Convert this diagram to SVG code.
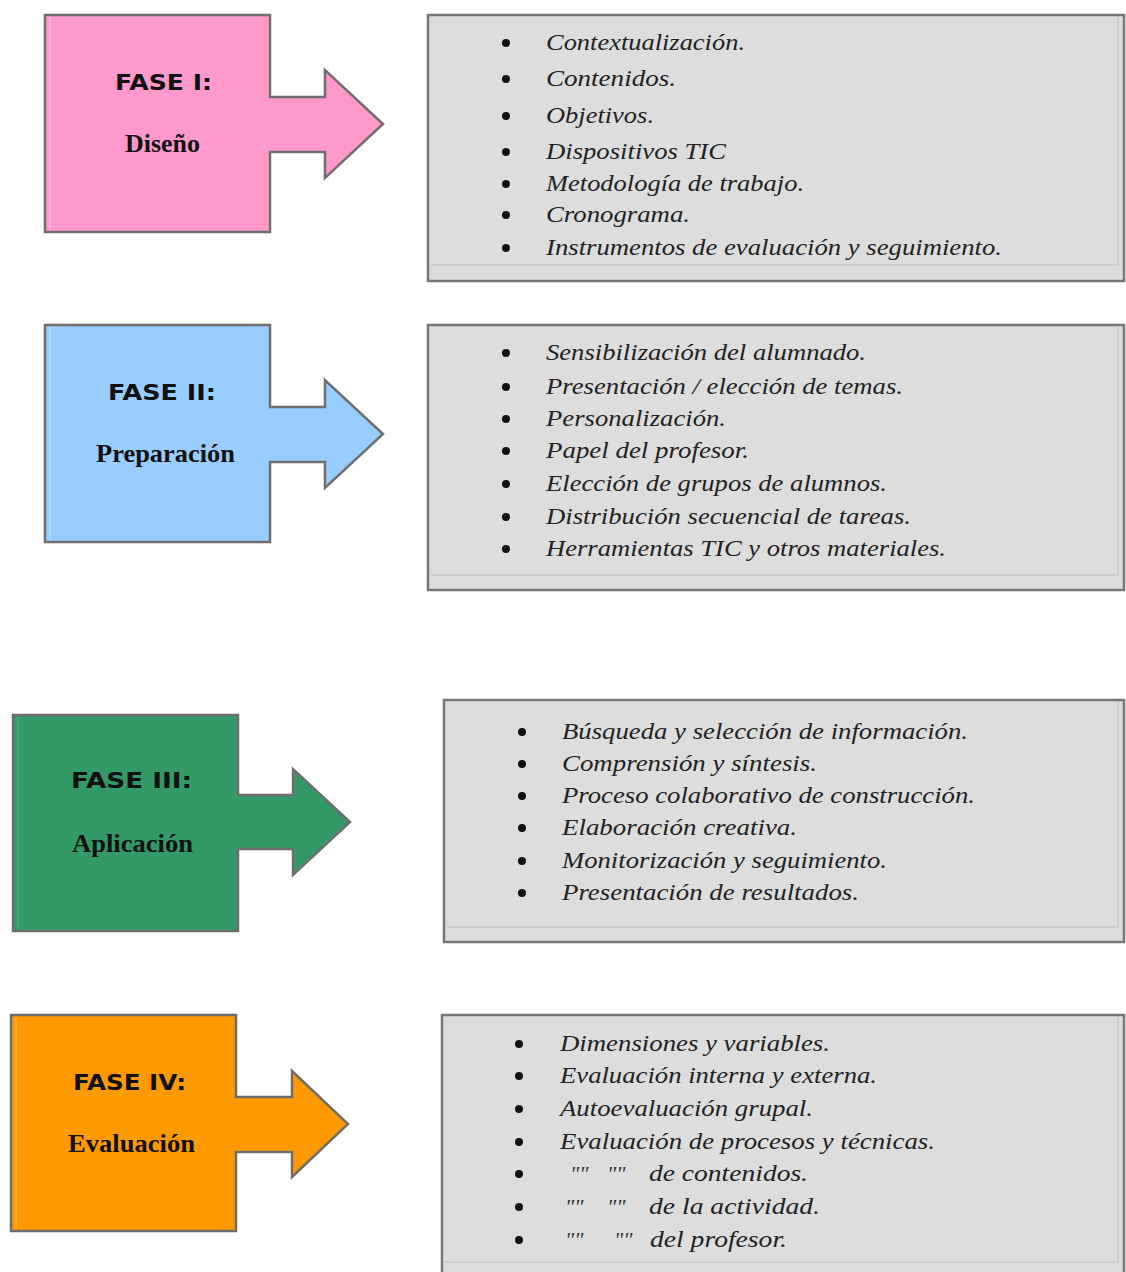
<svg xmlns="http://www.w3.org/2000/svg" width="1126" height="1272" viewBox="0 0 1126 1272">
<style>
.shape{stroke:#6e6e6e;stroke-width:2.5;stroke-linejoin:miter}
.list{fill:#dddddd;stroke:#777777;stroke-width:2.5}
.bevel{stroke:#c9c9c9;stroke-width:1.5;fill:none}
.hl{stroke-width:1.5;fill:none;opacity:0.6}
.fase{font-family:"DejaVu Sans","Liberation Sans",sans-serif;font-weight:bold;font-size:22px;fill:#111;text-anchor:start}
.name{font-family:"Liberation Serif","DejaVu Serif",serif;font-weight:bold;font-size:25px;fill:#111}
.item{font-family:"Liberation Serif","DejaVu Serif",serif;font-style:italic;font-size:23px;fill:#222}
.q{font-family:"Liberation Serif","DejaVu Serif",serif;font-style:italic;font-size:22px;fill:#333}
.bul{fill:#111}
</style>
<rect width="1126" height="1272" fill="#ffffff"/>

<g id="fase1">
<path class="shape" fill="#ff99cc" d="M45,15 H270 V97 H325 V70 L383,124 L325,178 V152 H270 V232 H45 Z"/>
<line class="hl" stroke="#ffc8e4" x1="50" y1="17" x2="50" y2="230"/>
<text class="fase" x="115" y="90" textLength="97" lengthAdjust="spacingAndGlyphs">FASE I:</text>
<text class="name" x="125" y="152" textLength="75" lengthAdjust="spacingAndGlyphs">Diseño</text>
</g>

<g id="lista1">
<rect class="list" x="428" y="15" width="696" height="266"/>
<path class="bevel" d="M431,265 H1118 V17"/>
<g class="bul"><circle cx="506" cy="43" r="4"/><circle cx="506" cy="79" r="4"/><circle cx="506" cy="116" r="4"/><circle cx="506" cy="152" r="4"/><circle cx="506" cy="184" r="4"/><circle cx="506" cy="215" r="4"/><circle cx="506" cy="248" r="4"/></g>
<text class="item" x="546" y="50" textLength="199" lengthAdjust="spacingAndGlyphs">Contextualización.</text>
<text class="item" x="546" y="86" textLength="130" lengthAdjust="spacingAndGlyphs">Contenidos.</text>
<text class="item" x="546" y="123" textLength="108" lengthAdjust="spacingAndGlyphs">Objetivos.</text>
<text class="item" x="546" y="159" textLength="180" lengthAdjust="spacingAndGlyphs">Dispositivos TIC</text>
<text class="item" x="546" y="191" textLength="258" lengthAdjust="spacingAndGlyphs">Metodología de trabajo.</text>
<text class="item" x="546" y="222" textLength="144" lengthAdjust="spacingAndGlyphs">Cronograma.</text>
<text class="item" x="546" y="255" textLength="456" lengthAdjust="spacingAndGlyphs">Instrumentos de evaluación y seguimiento.</text>
</g>

<g id="fase2">
<path class="shape" fill="#99ccff" d="M45,325 H270 V407 H325 V380 L383,434 L325,488 V462 H270 V542 H45 Z"/>
<line class="hl" stroke="#cfe6ff" x1="50" y1="327" x2="50" y2="540"/>
<text class="fase" x="108" y="400" textLength="108" lengthAdjust="spacingAndGlyphs">FASE II:</text>
<text class="name" x="96" y="462" textLength="139" lengthAdjust="spacingAndGlyphs">Preparación</text>
</g>

<g id="lista2">
<rect class="list" x="428" y="325" width="696" height="265"/>
<path class="bevel" d="M431,575 H1118 V327"/>
<g class="bul"><circle cx="506" cy="353" r="4"/><circle cx="506" cy="387" r="4"/><circle cx="506" cy="419" r="4"/><circle cx="506" cy="451" r="4"/><circle cx="506" cy="484" r="4"/><circle cx="506" cy="517" r="4"/><circle cx="506" cy="549" r="4"/></g>
<text class="item" x="546" y="360" textLength="320" lengthAdjust="spacingAndGlyphs">Sensibilización del alumnado.</text>
<text class="item" x="546" y="394" textLength="357" lengthAdjust="spacingAndGlyphs">Presentación / elección de temas.</text>
<text class="item" x="546" y="426" textLength="180" lengthAdjust="spacingAndGlyphs">Personalización.</text>
<text class="item" x="546" y="458" textLength="203" lengthAdjust="spacingAndGlyphs">Papel del profesor.</text>
<text class="item" x="546" y="491" textLength="341" lengthAdjust="spacingAndGlyphs">Elección de grupos de alumnos.</text>
<text class="item" x="546" y="524" textLength="365" lengthAdjust="spacingAndGlyphs">Distribución secuencial de tareas.</text>
<text class="item" x="546" y="556" textLength="400" lengthAdjust="spacingAndGlyphs">Herramientas TIC y otros materiales.</text>
</g>

<g id="fase3">
<path class="shape" fill="#339966" d="M13,715 H238 V795 H293 V769 L350,822 L293,875 V849 H238 V931 H13 Z"/>
<line class="hl" stroke="#5fb488" x1="18" y1="717" x2="18" y2="929"/>
<text class="fase" x="71" y="788" textLength="121" lengthAdjust="spacingAndGlyphs">FASE III:</text>
<text class="name" x="72" y="852" textLength="121" lengthAdjust="spacingAndGlyphs">Aplicación</text>
</g>

<g id="lista3">
<rect class="list" x="444" y="700" width="680" height="242"/>
<path class="bevel" d="M447,927 H1118 V702"/>
<g class="bul"><circle cx="522" cy="732" r="4"/><circle cx="522" cy="764" r="4"/><circle cx="522" cy="796" r="4"/><circle cx="522" cy="828" r="4"/><circle cx="522" cy="861" r="4"/><circle cx="522" cy="893" r="4"/></g>
<text class="item" x="562" y="739" textLength="406" lengthAdjust="spacingAndGlyphs">Búsqueda y selección de información.</text>
<text class="item" x="562" y="771" textLength="255" lengthAdjust="spacingAndGlyphs">Comprensión y síntesis.</text>
<text class="item" x="562" y="803" textLength="413" lengthAdjust="spacingAndGlyphs">Proceso colaborativo de construcción.</text>
<text class="item" x="562" y="835" textLength="235" lengthAdjust="spacingAndGlyphs">Elaboración creativa.</text>
<text class="item" x="562" y="868" textLength="325" lengthAdjust="spacingAndGlyphs">Monitorización y seguimiento.</text>
<text class="item" x="562" y="900" textLength="297" lengthAdjust="spacingAndGlyphs">Presentación de resultados.</text>
</g>

<g id="fase4">
<path class="shape" fill="#ff9900" d="M11,1015 H236 V1097 H292 V1071 L348,1124 L292,1177 V1152 H236 V1231 H11 Z"/>
<line class="hl" stroke="#ffbf66" x1="16" y1="1017" x2="16" y2="1229"/>
<text class="fase" x="73" y="1090" textLength="113" lengthAdjust="spacingAndGlyphs">FASE IV:</text>
<text class="name" x="68" y="1152" textLength="127" lengthAdjust="spacingAndGlyphs">Evaluación</text>
</g>

<g id="lista4">
<rect class="list" x="442" y="1015" width="682" height="262"/>
<path class="bevel" d="M445,1262 H1118 V1017"/>
<g class="bul"><circle cx="519" cy="1044" r="4"/><circle cx="519" cy="1076" r="4"/><circle cx="519" cy="1109" r="4"/><circle cx="519" cy="1142" r="4"/><circle cx="519" cy="1174" r="4"/><circle cx="519" cy="1207" r="4"/><circle cx="519" cy="1240" r="4"/></g>
<text class="item" x="560" y="1051" textLength="270" lengthAdjust="spacingAndGlyphs">Dimensiones y variables.</text>
<text class="item" x="560" y="1083" textLength="317" lengthAdjust="spacingAndGlyphs">Evaluación interna y externa.</text>
<text class="item" x="560" y="1116" textLength="253" lengthAdjust="spacingAndGlyphs">Autoevaluación grupal.</text>
<text class="item" x="560" y="1149" textLength="375" lengthAdjust="spacingAndGlyphs">Evaluación de procesos y técnicas.</text>
<text class="q" x="570" y="1181">""</text><text class="q" x="607" y="1181">""</text>
<text class="item" x="649" y="1181" textLength="159" lengthAdjust="spacingAndGlyphs">de contenidos.</text>
<text class="q" x="565" y="1214">""</text><text class="q" x="607" y="1214">""</text>
<text class="item" x="649" y="1214" textLength="171" lengthAdjust="spacingAndGlyphs">de la actividad.</text>
<text class="q" x="565" y="1247">""</text><text class="q" x="614" y="1247">""</text>
<text class="item" x="650" y="1247" textLength="137" lengthAdjust="spacingAndGlyphs">del profesor.</text>
</g>
</svg>
